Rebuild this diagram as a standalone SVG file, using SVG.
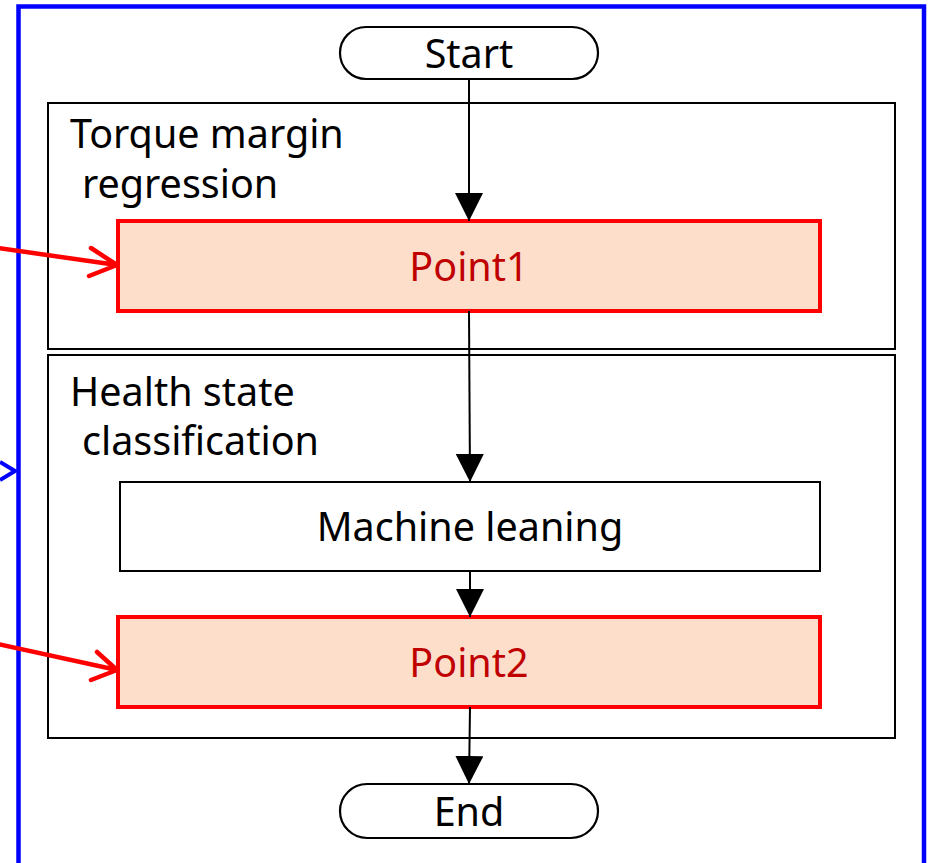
<svg xmlns="http://www.w3.org/2000/svg" width="930" height="863" viewBox="0 0 930 863">
  <defs>
    <style>
      .frame { fill: none; stroke: #0000ff; stroke-width: 4.5; }
      .group { fill: #ffffff; stroke: #000000; stroke-width: 2; }
      .step { fill: #ffffff; stroke: #000000; stroke-width: 2; }
      .point { fill: #fcdecb; stroke: #ff0000; stroke-width: 4; }
      .term { fill: #ffffff; stroke: #000000; stroke-width: 2.2; }
      .lbl { font-family: "Noto Sans", "Open Sans", sans-serif; font-size: 39.5px; fill: #000000; }
      .ctr { text-anchor: middle; }
      .red { fill: #c00000; }
      .flow { stroke: #000000; stroke-width: 2; fill: none; }
      .link { stroke: #ff0000; stroke-width: 4.5; fill: none; stroke-linecap: round; stroke-linejoin: round; }
      .blue { stroke: #0000ff; stroke-width: 4; fill: none; }
    </style>
    <marker id="tri" viewBox="0 0 28 28" refX="28" refY="14" markerWidth="28" markerHeight="28" markerUnits="userSpaceOnUse" orient="auto">
      <path d="M0,0 L28,14 L0,28 Z" fill="#000000"/>
    </marker>
  </defs>

  <!-- outer frame -->
  <rect class="frame" x="18.5" y="6.5" width="905.5" height="880"/>

  <!-- group: torque margin regression -->
  <g id="torque-group">
    <rect class="group" x="48" y="103" width="847" height="246"/>
    <text class="lbl" x="70" y="148">Torque margin</text>
    <text class="lbl" x="82" y="198">regression</text>
  </g>

  <!-- group: health state classification -->
  <g id="health-group">
    <rect class="group" x="48" y="355" width="847" height="383"/>
    <text class="lbl" x="70" y="406">Health state</text>
    <text class="lbl" x="82" y="455">classification</text>
  </g>

  <g id="start">
    <rect class="term" x="340" y="27" width="258" height="52" rx="26" ry="26"/>
    <text class="lbl ctr" x="469" y="68">Start</text>
  </g>

  <g id="point1">
    <rect class="point" x="118" y="221" width="702" height="90"/>
    <text class="lbl ctr red" x="469" y="281">Point1</text>
  </g>

  <g id="machine-learning">
    <rect class="step" x="120" y="482" width="700" height="89"/>
    <text class="lbl ctr" x="470" y="541">Machine leaning</text>
  </g>

  <g id="point2">
    <rect class="point" x="118" y="617" width="702" height="90"/>
    <text class="lbl ctr red" x="469" y="677">Point2</text>
  </g>

  <g id="end">
    <rect class="term" x="340" y="784" width="258" height="54" rx="27" ry="27"/>
    <text class="lbl ctr" x="469" y="826">End</text>
  </g>

  <g id="connectors">
    <line class="flow" x1="469" y1="79" x2="469" y2="221" marker-end="url(#tri)"/>
    <line class="flow" x1="469" y1="311" x2="470" y2="482" marker-end="url(#tri)"/>
    <line class="flow" x1="470" y1="571" x2="470" y2="617" marker-end="url(#tri)"/>
    <line class="flow" x1="470" y1="707" x2="469" y2="784" marker-end="url(#tri)"/>

    <!-- incoming links from the left -->
    <path class="link" d="M-2,248 L117,265 M91,248 L117,265 L89,276"/>
    <path class="link" d="M-2,644 L117,670 M97,652 L117,670 L91,680"/>
    <path class="blue" d="M0,462 L15,471 L0,480"/>
  </g>
</svg>
